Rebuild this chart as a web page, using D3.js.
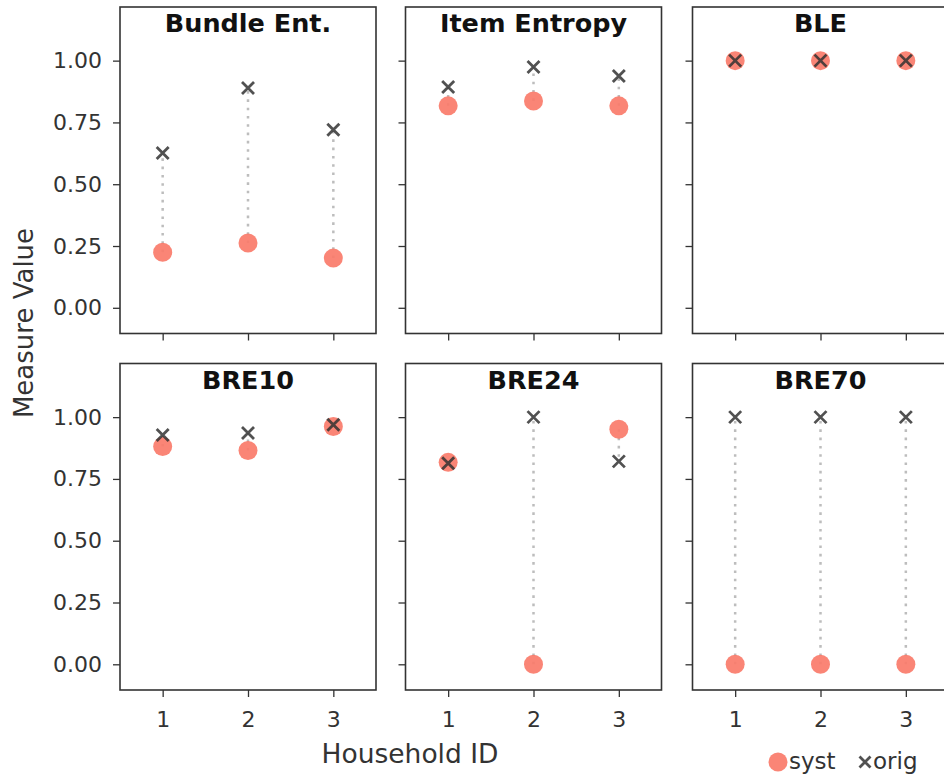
<!DOCTYPE html>
<html>
<head>
<meta charset="utf-8">
<script src="https://cdn.jsdelivr.net/npm/d3@7"></script>
<style>
    body { margin: 0; background: #fff; }
    svg { display: block; font-family: "DejaVu Sans", sans-serif; }
</style>
</head>
<body>
<div id="chart"></div>
<script>
// --- data ---
const measures = ["Bundle Ent.", "Item Entropy", "BLE", "BRE10", "BRE24", "BRE70"];
const households = [1, 2, 3];
const systValues = [
    [0.225, 0.262, 0.201],
    [0.817, 0.837, 0.817],
    [1.0, 1.0, 1.0],
    [0.881, 0.865, 0.962],
    [0.817, 0.0, 0.951],
    [0.0, 0.0, 0.0]
];
const origValues = [
    [0.626, 0.889, 0.720],
    [0.893, 0.974, 0.938],
    [1.0, 1.0, 1.0],
    [0.928, 0.936, 0.969],
    [0.813, 1.0, 0.821],
    [1.0, 1.0, 1.0]
];
const yTicks = [0, 0.25, 0.5, 0.75, 1.0];
const xTicks = [1, 2, 3];

// --- layout ---
const W = 944, H = 776;
const colLeft = [120, 405.5, 692.5];
const rowTop = [7, 363.5];
const pw = 256, ph = 326.5;

const systColor = "#fa7b6a";
const origColor = "#333";

const svg = d3.select("#chart").append("svg")
    .attr("width", W)
    .attr("height", H);

const x = d3.scaleLinear().domain([0.5, 3.5]).range([0, pw]);
const y = d3.scaleLinear().domain([-0.104, 1.217]).range([ph, 0]);

function xMark(sel, r) {
    sel.append("path")
        .attr("d", `M${-r},${-r}L${r},${r}M${-r},${r}L${r},${-r}`)
        .attr("stroke", origColor)
        .attr("stroke-opacity", 0.85)
        .attr("stroke-width", 2.8)
        .attr("fill", "none");
}

measures.forEach((name, i) => {
    const row = Math.floor(i / 3), col = i % 3;
    const g = svg.append("g")
        .attr("transform", `translate(${colLeft[col]},${rowTop[row]})`);

    const pts = households.map((h, j) => ({ h, s: systValues[i][j], o: origValues[i][j] }));

    // dotted connectors
    g.selectAll("line.conn")
        .data(pts)
        .join("line")
        .attr("class", "conn")
        .attr("x1", d => x(d.h)).attr("x2", d => x(d.h))
        .attr("y1", d => y(d.s)).attr("y2", d => y(d.o))
        .attr("stroke", "#bdbdbd")
        .attr("stroke-width", 2.5)
        .attr("stroke-dasharray", "2.6,5.7");

    // syst circles
    g.selectAll("circle.syst")
        .data(pts)
        .join("circle")
        .attr("class", "syst")
        .attr("cx", d => x(d.h))
        .attr("cy", d => y(d.s))
        .attr("r", 9.5)
        .attr("fill", systColor)
        .attr("fill-opacity", 0.92);

    // orig crosses
    g.selectAll("g.orig")
        .data(pts)
        .join("g")
        .attr("class", "orig")
        .attr("transform", d => `translate(${x(d.h)},${y(d.o)})`)
        .each(function () { xMark(d3.select(this), 6); });

    // axes
    const yAxis = d3.axisLeft(y).tickValues(yTicks).tickSize(7).tickPadding(11)
        .tickFormat(col === 0 ? d3.format(".2f") : () => "");
    const ya = g.append("g").call(yAxis);
    const xAxis = d3.axisBottom(x).tickValues(xTicks).tickSize(7).tickPadding(14)
        .tickFormat(row === 1 ? d3.format("d") : () => "");
    const xa = g.append("g").attr("transform", `translate(0,${ph})`).call(xAxis);
    [ya, xa].forEach(a => {
        a.select(".domain").remove();
        a.selectAll(".tick line").attr("stroke", "#333").attr("stroke-width", 1.3);
        a.selectAll(".tick text")
            .attr("fill", "#333")
            .style("font-size", "22px")
            .style("font-family", "DejaVu Sans");
    });

    // frame
    g.append("rect")
        .attr("width", pw).attr("height", ph)
        .attr("fill", "none")
        .attr("stroke", "#333")
        .attr("stroke-width", 1.6);

    // title
    g.append("text")
        .attr("x", pw / 2)
        .attr("y", 25)
        .attr("text-anchor", "middle")
        .style("font-size", "25.5px")
        .style("font-weight", "bold")
        .attr("fill", "#111")
        .text(name);
});

// axis labels
svg.append("text")
    .attr("x", 410).attr("y", 763)
    .attr("text-anchor", "middle")
    .style("font-size", "26.5px")
    .attr("fill", "#333")
    .text("Household ID");

svg.append("text")
    .attr("transform", "translate(33,323) rotate(-90)")
    .attr("text-anchor", "middle")
    .style("font-size", "26px")
    .attr("fill", "#333")
    .text("Measure Value");

// legend
const legend = svg.append("g").attr("transform", "translate(0,762)");
legend.append("circle")
    .attr("cx", 778).attr("cy", 0).attr("r", 9.5)
    .attr("fill", systColor).attr("fill-opacity", 0.92);
legend.append("text")
    .attr("x", 789).attr("y", 7)
    .style("font-size", "23px")
    .attr("fill", "#333")
    .text("syst");
legend.append("g")
    .attr("transform", "translate(865,0)")
    .call(s => xMark(s, 5.5));
legend.append("text")
    .attr("x", 873).attr("y", 7)
    .style("font-size", "23px")
    .attr("fill", "#333")
    .text("orig");
</script>
</body>
</html>
